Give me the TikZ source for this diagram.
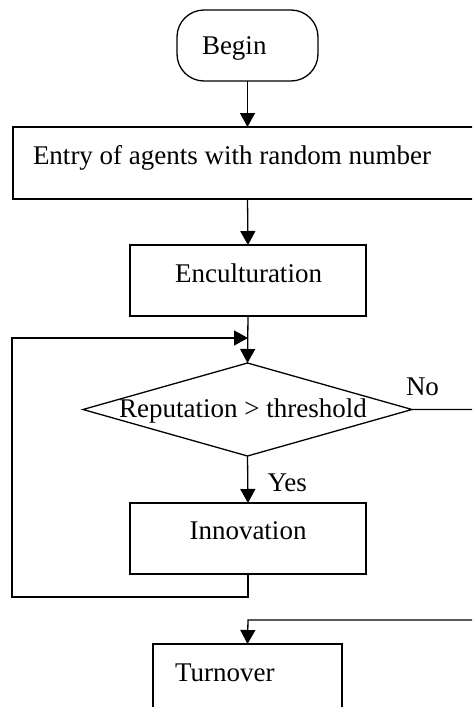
\documentclass[tikz,border=0pt]{standalone}
\usepackage{fontspec}
\setmainfont{Liberation Serif}
\usetikzlibrary{arrows.meta,shapes.geometric}
\begin{document}
\begin{tikzpicture}[x=1pt,y=-1pt,
  line width=1.3pt,
  box/.style={draw, rectangle, inner sep=0pt, outer sep=0pt},
  txt/.style={inner sep=0pt, outer sep=0pt, font=\fontsize{27}{32}\selectfont, anchor=base west},
  arr/.style={-{Triangle[length=14pt,width=15pt]}}]
\useasboundingbox (0,0) rectangle (472,707);
\clip (0,0) rectangle (472,707);
% boxes
\node[box, rounded corners=27pt, minimum width=141pt, minimum height=71pt] (begin) at (247.5,45.5) {};
\node[box, minimum width=467pt, minimum height=72pt] (entry) at (246.5,163) {};
\node[box, minimum width=236pt, minimum height=71pt] (encul) at (248,280.5) {};
\node[draw, diamond, inner sep=0pt, outer sep=0pt, minimum width=329pt, minimum height=93pt] (dec) at (247.5,409.5) {};
\node[box, minimum width=236pt, minimum height=71pt] (innov) at (248,538.5) {};
\node[box, minimum width=189pt, minimum height=72pt] (turn) at (247.5,680) {};
% texts
\node[txt] (tbegin) at (202,54) {Begin};
\node[txt] (tentry) at (33,164) {Entry of agents with random number};
\node[txt, anchor=base] (tencul) at (248.5,282) {Enculturation};
\node[txt, anchor=base] (tdec) at (243,417) {Reputation > threshold};
\node[txt] (tno) at (406,395) {No};
\node[txt] (tyes) at (267.5,491) {Yes};
\node[txt, anchor=base] (tinnov) at (248,539) {Innovation};
\node[txt] (tturn) at (175,681) {Turnover};
% helper coordinates
\coordinate (loopA) at (248,597);
\coordinate (loopB) at (12,597);
\coordinate (loopC) at (12,338);
\coordinate (loopD) at (248,338);
\coordinate (noA) at (490,409.5);
\coordinate (noB) at (490,620);
\coordinate (noC) at (248,620);
% connectors
\draw[arr] (begin.south) -- (entry.north -| begin.south);
\draw[arr] (entry.south -| begin.south) -- (encul.north);
\draw[arr] (encul.south) -- (dec.north);
\draw[arr] (dec.south) -- (innov.north);
\draw[arr] (innov.south) -- (loopA) -- (loopB) -- (loopC) -- (loopD);
\draw[arr] (dec.east) -- (noA) -- (noB) -- (noC) -- (turn.north);
\end{tikzpicture}
\end{document}
